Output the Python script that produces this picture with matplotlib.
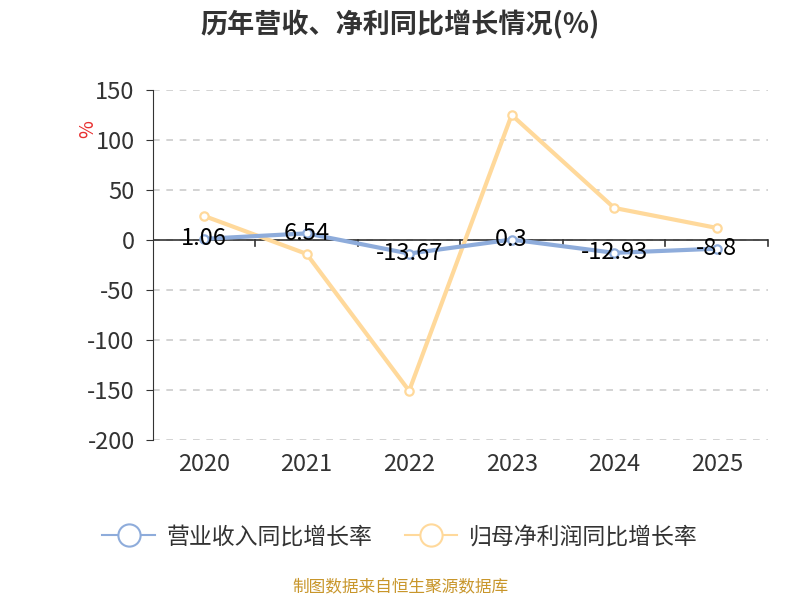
import matplotlib
matplotlib.use('Agg')
import matplotlib.pyplot as plt
from matplotlib.lines import Line2D

plt.rcParams['font.family'] = ['Noto Sans CJK SC', 'DejaVu Sans']

years = ['2020', '2021', '2022', '2023', '2024', '2025']
revenue = [1.06, 6.54, -13.67, 0.3, -12.93, -8.8]
profit = [24, -14, -151, 125, 32, 12]
yticks = [150, 100, 50, 0, -50, -100, -150, -200]

blue = '#8EACDB'
orange = '#FFD99B'

fig = plt.figure(figsize=(8, 6), dpi=100)
ax = fig.add_axes([0.191, 0.267, 0.769, 0.583])

x = list(range(len(years)))
ax.plot(x, profit, color=orange, lw=3, marker='o', ms=6, mfc='white',
        mec=orange, mew=1.6, zorder=3)
ax.plot(x, revenue, color=blue, lw=3, marker='o', ms=6, mfc='white',
        mec=blue, mew=1.6, zorder=4)

for xi, v in zip(x, revenue):
    ax.text(xi, v, str(v), ha='center', va='center', fontsize=17,
            color='black', zorder=5)

ax.set_xlim(-0.5, len(years) - 0.5)
ax.set_ylim(-200, 150)
ax.set_yticks(yticks)
ax.set_yticklabels([str(t) for t in yticks], fontsize=17, color='#333333')
ax.yaxis.grid(True, ls=(0, (4, 4)), color='#cccccc', lw=1.2)
ax.set_axisbelow(True)

for s in ['top', 'right', 'bottom']:
    ax.spines[s].set_visible(False)
ax.spines['left'].set_color('#333333')
ax.tick_params(axis='y', length=5, color='#333333', pad=8)
ax.axhline(0, color='#333333', lw=1.2, zorder=2)

# category labels and boundary ticks on the zero line
ax.set_xticks([])
for xi, y in zip(x, years):
    ax.text(xi, -213, y, ha='center', va='top', fontsize=17, color='#333333')
for b in range(1, len(years) + 1):
    ax.plot([b - 0.5, b - 0.5], [0, -6], color='#333333', lw=1.2,
            clip_on=False, zorder=2)

fig.text(0.11, 0.785, '%', color='#e83030', fontsize=14, rotation=90,
         ha='center', va='center')

fig.text(0.5, 0.958, '历年营收、净利同比增长情况(%)', ha='center', va='center',
         fontsize=19.5, fontweight='bold', color='#333333')

handles = [
    Line2D([0], [0], color=blue, lw=1.5, marker='o', ms=16, mfc='white',
           mec=blue, mew=1.5),
    Line2D([0], [0], color=orange, lw=1.5, marker='o', ms=16, mfc='white',
           mec=orange, mew=1.5),
]
fig.legend(handles, ['营业收入同比增长率', '归母净利润同比增长率'],
           loc='center', bbox_to_anchor=(0.5, 0.105), ncol=2, frameon=False,
           fontsize=16.5, labelcolor='#333333', handlelength=2.3,
           columnspacing=1.4, handletextpad=0.5)

fig.text(0.5, 0.02, '制图数据来自恒生聚源数据库', ha='center', va='center',
         fontsize=12, color='#C8962B')

fig.savefig('out.png', dpi=100)
